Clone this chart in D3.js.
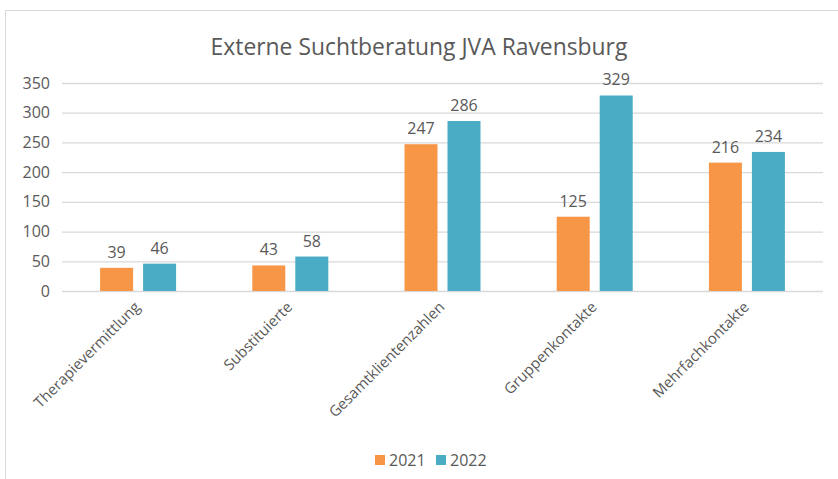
<!DOCTYPE html>
<html><head><meta charset="utf-8">
<script src="https://cdn.jsdelivr.net/npm/d3@7"></script>
<style>body{margin:0;background:#fff;} text{font-family:"Open Sans",sans-serif;fill:#595959;}</style>
</head><body>
<svg id="c" width="838" height="479"></svg>
<script>
const title = "Externe Suchtberatung JVA Ravensburg";
const categories = ["Therapievermittlung","Substituierte","Gesamtklientenzahlen","Gruppenkontakte","Mehrfachkontakte"];
const seriesNames = ["2021","2022"];
const values2021 = [39,43,247,125,216];
const values2022 = [46,58,286,329,234];
const yTicks = [0,50,100,150,200,250,300,350];
const colors = ["#F79646","#4BACC6"];

(function(){
const svg = d3.select("#c");
svg.append("rect").attr("x",5.5).attr("y",10.5).attr("width",850).attr("height",480)
  .attr("fill","#fff").attr("stroke","#d9d9d9");

const pL=62, pR=823, pT=83, pB=291;
const x = d3.scaleBand().domain(categories).range([pL,pR]);
const y = d3.scaleLinear().domain([0,350]).range([pB,pT]);
const mid = x.bandwidth()/2;
const xs = d3.scaleBand().domain(seriesNames).range([mid-38,mid+38]).paddingInner(0.2326).paddingOuter(0);

svg.append("g").selectAll("line").data(yTicks).join("line")
  .attr("x1",pL).attr("x2",pR).attr("y1",d=>y(d)+0.5).attr("y2",d=>y(d)+0.5)
  .attr("stroke","#d9d9d9").attr("stroke-width",1.3);

const yAxis = svg.append("g").attr("transform",`translate(${pL},0)`)
  .call(d3.axisLeft(y).tickValues(yTicks).tickSize(0).tickPadding(12));
yAxis.select(".domain").remove();
yAxis.selectAll("text").style("font-size","16px").attr("fill","#595959").style("font-family","'Open Sans',sans-serif");

const data = [values2021, values2022];
data.forEach((vals,si)=>{
  const g = svg.append("g");
  g.selectAll("rect").data(categories).join("rect")
    .attr("x",(c)=>x(c)+xs(seriesNames[si]))
    .attr("width",xs.bandwidth())
    .attr("y",(c,i)=>y(vals[i]))
    .attr("height",(c,i)=>y(0)-y(vals[i]))
    .attr("fill",colors[si]);
  g.selectAll("text").data(categories).join("text")
    .attr("x",(c)=>x(c)+xs(seriesNames[si])+xs.bandwidth()/2)
    .attr("y",(c,i)=>y(vals[i])-10)
    .attr("text-anchor","middle").style("font-size","16px")
    .text((c,i)=>vals[i]);
});

const xAxis = svg.append("g").attr("transform",`translate(0,${pB})`)
  .call(d3.axisBottom(x).tickSize(0).tickPadding(0));
xAxis.select(".domain").remove();
xAxis.selectAll("text").style("font-size","15px").attr("fill","#595959")
  .style("font-family","'Open Sans',sans-serif")
  .attr("text-anchor","end").attr("dy",0).attr("y",0)
  .attr("transform","translate(3,17) rotate(-45)");

const t = svg.append("text").attr("x",419).attr("y",55).attr("text-anchor","middle")
  .style("font-size","24px").text(title);
const tw = t.node().getComputedTextLength();
t.style("font-size",(24*417/tw)+"px");

const leg = svg.append("g").attr("transform","translate(375,455)");
seriesNames.forEach((s,i)=>{
  const gg = leg.append("g").attr("transform",`translate(${i*61},0)`);
  gg.append("rect").attr("width",10).attr("height",10).attr("fill",colors[i]);
  gg.append("text").attr("x",14).attr("y",11).style("font-size","16px").text(s);
});
})();
</script>
</body></html>
